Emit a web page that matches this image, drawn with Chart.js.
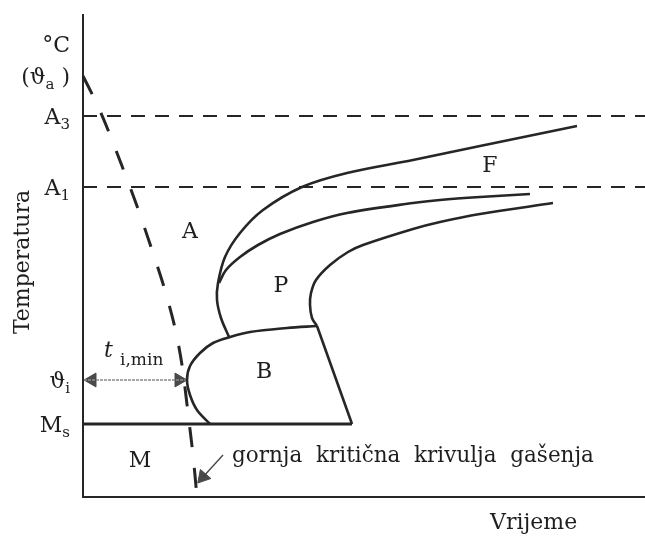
<!DOCTYPE html>
<html><head><meta charset="utf-8">
<script src="https://cdn.jsdelivr.net/npm/chart.js@4/dist/chart.umd.min.js"></script>
<style>html,body{margin:0;padding:0;background:#fff}#wrap{width:645px;height:538px;position:relative}</style>
</head><body><div id="wrap"><canvas id="c"></canvas></div>
<script>
// ---- data (arbitrary time / temperature units) ----
const yTickValues = [453, 421, 381, 310, 117, 73];
const yTickMain   = ['°C', '(ϑ', 'A', 'A', 'ϑ', 'M'];
const yTickSub    = ['',   'a',  '3', '1', 'i', 's'];
const yTickTail   = ['',   ' )', '',  '',  '',  ''];

const A3 = 381, A1 = 310, Ms = 73, Ti = 117;
const timeMax = 562, tempMax = 482;

const criticalCurve = [[0,421],[12,397],[23,372],[39,331],[54,291],[68,250],[81,210],[92,169],[99,132],[105,84],[110,42],[114,0]];
const ferriteStart  = [[146,160],[138,179],[134,197],[135,214],[142,240],[157,264],[180,287],[219,310],[264,324],[330,337],[397,351],[494,371]];
const pearliteStart = [[136,214],[143,227],[157,240],[175,252],[197,263],[230,275],[264,284],[330,294],[357,297],[397,300],[447,303]];
const pearliteEnd   = [[234,171],[229,179],[227,192],[228,204],[233,217],[247,232],[265,245],[280,252],[330,268],[357,275],[397,283],[470,294]];
const bainiteStart  = [[234,171],[204,169],[167,165],[147,160],[130,154],[117,144],[107,131],[104,117],[107,102],[114,87],[127,73]];
const bainiteEnd    = [[234,171],[269,73]];
const msLine        = [[0,Ms],[269,Ms]];
const tiMin         = [1, 104];

const regionNames = ['A', 'P', 'F', 'B', 'M'];
const regionX     = [107, 198, 407, 181, 57];
const regionY     = [265, 211, 331, 125, 36];

const noteText = 'gornja  kritična  krivulja  gašenja';
const noteArrow = [[140,42],[120,20]];
const xTitle = 'Vrijeme';
const yTitle = 'Temperatura';

const pts = a => a.map(p => ({x:p[0], y:p[1]}));
const INK = '#262626';
const SERIF = '"DejaVu Serif", "Liberation Serif", serif';

const line = (data, extra) => Object.assign({
  data: pts(data), showLine: true, pointRadius: 0, borderColor: INK,
  borderWidth: 2.6, tension: 0.35, fill: false, clip: false
}, extra || {});

const datasets = [
  line([[0,A3],[timeMax,A3]], {borderDash:[14,10], borderWidth:2, tension:0}),
  line([[0,A1],[timeMax,A1]], {borderDash:[14,10], borderWidth:2, tension:0}),
  line(criticalCurve, {borderDash:[20,21], borderWidth:3, tension:0.3}),
  line(ferriteStart),
  line(pearliteStart),
  line(pearliteEnd),
  line(bainiteStart),
  line(bainiteEnd, {tension:0}),
  line(msLine, {tension:0, borderWidth:3}),
  line([[tiMin[0],Ti],[tiMin[1],Ti]], {borderColor:'#8a8a8a', borderWidth:1.5, borderDash:[3,1], tension:0}),
  { data: pts([[tiMin[0]+8,Ti],[tiMin[1]-8,Ti]]), showLine:false, pointStyle:'triangle',
    pointRadius:8, pointRotation:[270,90], pointBackgroundColor:'#4a4a4a', pointBorderColor:'#4a4a4a', clip:false },
  line(noteArrow, {borderColor:'#444', borderWidth:1.3, tension:0}),
  { data: pts([noteArrow[1]]), showLine:false, pointStyle:'triangle',
    pointRadius:8, pointRotation:221, pointBackgroundColor:'#4a4a4a', pointBorderColor:'#4a4a4a', clip:false }
];

const textPlugin = {
  id: 'texts',
  afterDatasetsDraw(chart) {
    const {ctx, scales:{x, y}} = chart;
    ctx.save();
    ctx.fillStyle = '#1e1e1e';
    const big = '22px ' + SERIF, small = '15px ' + SERIF;
    // y tick labels, right aligned
    ctx.textBaseline = 'alphabetic';
    ctx.textAlign = 'left';
    const right = x.getPixelForValue(0) - 13;
    yTickValues.forEach((v, i) => {
      ctx.font = big; const w1 = ctx.measureText(yTickMain[i]).width;
      ctx.font = small; const w2 = ctx.measureText(yTickSub[i]).width;
      ctx.font = big; const w3 = ctx.measureText(yTickTail[i]).width;
      let px = right - w1 - w2 - w3;
      const base = y.getPixelForValue(v) + 8;
      ctx.font = big; ctx.fillText(yTickMain[i], px, base); px += w1;
      ctx.font = small; ctx.fillText(yTickSub[i], px, base + 5); px += w2;
      ctx.font = big; ctx.fillText(yTickTail[i], px, base);
    });
    // region labels
    ctx.font = big; ctx.textAlign = 'center'; ctx.textBaseline = 'middle';
    regionNames.forEach((n, i) => ctx.fillText(n, x.getPixelForValue(regionX[i]), y.getPixelForValue(regionY[i])));
    // t i,min
    ctx.textAlign = 'left'; ctx.textBaseline = 'alphabetic';
    ctx.font = 'italic 22px ' + SERIF;
    ctx.fillText('t', x.getPixelForValue(21), y.getPixelForValue(Ti + 23));
    ctx.font = '17px ' + SERIF;
    ctx.fillText('i,min', x.getPixelForValue(37), y.getPixelForValue(Ti + 15));
    // note
    ctx.font = '21.5px ' + SERIF;
    ctx.fillText(noteText, x.getPixelForValue(149), y.getPixelForValue(35));
    // x title
    ctx.font = big;
    ctx.fillText(xTitle, x.getPixelForValue(407), y.getPixelForValue(-32));
    // y title
    ctx.translate(x.getPixelForValue(-60), y.getPixelForValue(235));
    ctx.rotate(-Math.PI/2);
    ctx.textAlign = 'center'; ctx.textBaseline = 'middle';
    ctx.fillText(yTitle, 0, 0);
    ctx.restore();
  }
};

new Chart(document.getElementById('c'), {
  type: 'scatter',
  data: { datasets },
  options: {
    responsive: true, maintainAspectRatio: false, animation: false,
    layout: { autoPadding: false, padding: { left: 83, top: 15, right: 0, bottom: 41 } },
    plugins: { legend: {display:false}, tooltip: {enabled:false} },
    scales: {
      x: { type:'linear', min:0, max:timeMax, ticks:{display:false},
           grid:{display:false, drawTicks:false}, border:{display:true, color:INK, width:2} },
      y: { type:'linear', min:0, max:tempMax, ticks:{display:false},
           grid:{display:false, drawTicks:false}, border:{display:true, color:INK, width:2} }
    }
  },
  plugins: [textPlugin]
});
</script></body></html>
